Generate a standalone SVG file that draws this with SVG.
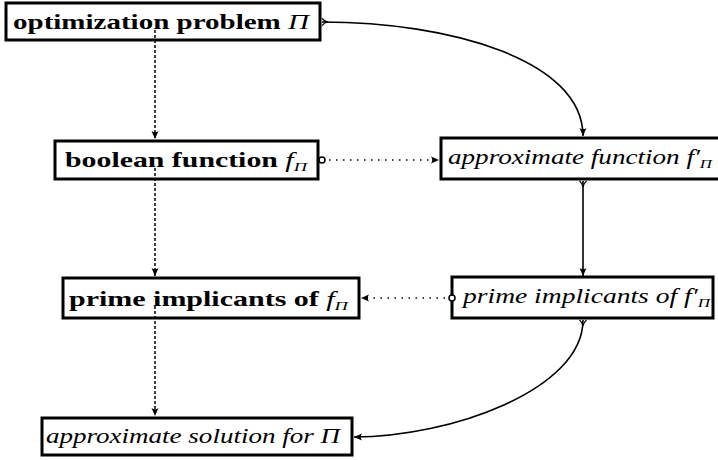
<svg xmlns="http://www.w3.org/2000/svg" width="718" height="460" viewBox="0 0 718 460">
<style>
.box{fill:#fff;stroke:#000;stroke-width:3}
.t{font-family:"Liberation Serif","Times New Roman","DejaVu Serif",serif;font-size:21px;fill:#000}
.b{font-weight:bold}
.i{font-style:italic}
.s{font-style:italic;font-size:13px}
.c{fill:none;stroke:#000;stroke-width:1.6}
.dot{fill:none;stroke:#000;stroke-width:1.5;stroke-dasharray:1.5 5.5}
.dash{fill:none;stroke:#000;stroke-width:1.5;stroke-dasharray:3 2}
</style>
<defs>
<marker id="ah" markerWidth="12" markerHeight="10" refX="0" refY="0" viewBox="-10 -5 12 10" orient="auto" markerUnits="userSpaceOnUse">
<path d="M0,0 L-8,-3.5 Q-5.5,0 -8,3.5 Z" fill="#000"/>
</marker>
<marker id="tl" markerWidth="12" markerHeight="10" refX="0" refY="0" viewBox="-2 -5 12 10" orient="auto" markerUnits="userSpaceOnUse">
<path d="M0,-3.5 Q2.5,-0.5 6,0 Q2.5,0.5 0,3.5" fill="none" stroke="#000" stroke-width="1.2"/>
</marker>
<marker id="oc" markerWidth="10" markerHeight="10" refX="0" refY="0" viewBox="-5 -5 10 10" orient="auto" markerUnits="userSpaceOnUse">
<circle cx="0" cy="0" r="3" fill="#fff" stroke="#000" stroke-width="1.5"/>
</marker>
</defs>

<g id="n1">
<rect class="box" x="6" y="3" width="314" height="37"/>
<text class="t b" x="13" y="29" textLength="296" lengthAdjust="spacingAndGlyphs">optimization problem <tspan class="i" font-weight="normal">Π</tspan></text>
</g>
<g id="n2">
<rect class="box" x="55" y="141" width="263" height="38"/>
<text class="t b" x="65" y="167" textLength="242" lengthAdjust="spacingAndGlyphs">boolean function <tspan class="i" font-weight="normal">f</tspan><tspan class="s" font-weight="normal" dy="4">Π</tspan></text>
</g>
<g id="n3">
<rect class="box" x="441" y="138" width="280" height="41"/>
<text class="t i" x="448" y="164" textLength="264" lengthAdjust="spacingAndGlyphs">approximate function f′<tspan class="s" dy="4">Π</tspan></text>
</g>
<g id="n4">
<rect class="box" x="63" y="278" width="296" height="40"/>
<text class="t b" x="69" y="306" textLength="279" lengthAdjust="spacingAndGlyphs">prime implicants of <tspan class="i" font-weight="normal">f</tspan><tspan class="s" font-weight="normal" dy="4">Π</tspan></text>
</g>
<g id="n5">
<rect class="box" x="452" y="277" width="261" height="41"/>
<text class="t i" x="463" y="303" textLength="247" lengthAdjust="spacingAndGlyphs">prime implicants of f′<tspan class="s" dy="4">Π</tspan></text>
</g>
<g id="n6">
<rect class="box" x="42" y="418" width="310" height="37"/>
<text class="t i" x="46" y="443" textLength="294" lengthAdjust="spacingAndGlyphs">approximate solution for Π</text>
</g>

<g id="edges">
<path class="dash" d="M155,30 V139" marker-end="url(#ah)"/>
<path class="dash" d="M155,168 V276" marker-end="url(#ah)"/>
<path class="dash" d="M155,306 V416" marker-end="url(#ah)"/>
<path class="c" d="M322,22 C450,22 583,60 583,136" marker-start="url(#tl)" marker-end="url(#ah)"/>
<path class="c" d="M583,181 V276" marker-start="url(#tl)" marker-end="url(#ah)"/>
<path class="c" d="M583,320 C583,390 450,437 354,437" marker-start="url(#tl)" marker-end="url(#ah)"/>
<path class="dot" d="M322,160 H439" marker-start="url(#oc)" marker-end="url(#ah)"/>
<path class="dot" d="M452,298 H361" marker-start="url(#oc)" marker-end="url(#ah)"/>
</g>
</svg>
